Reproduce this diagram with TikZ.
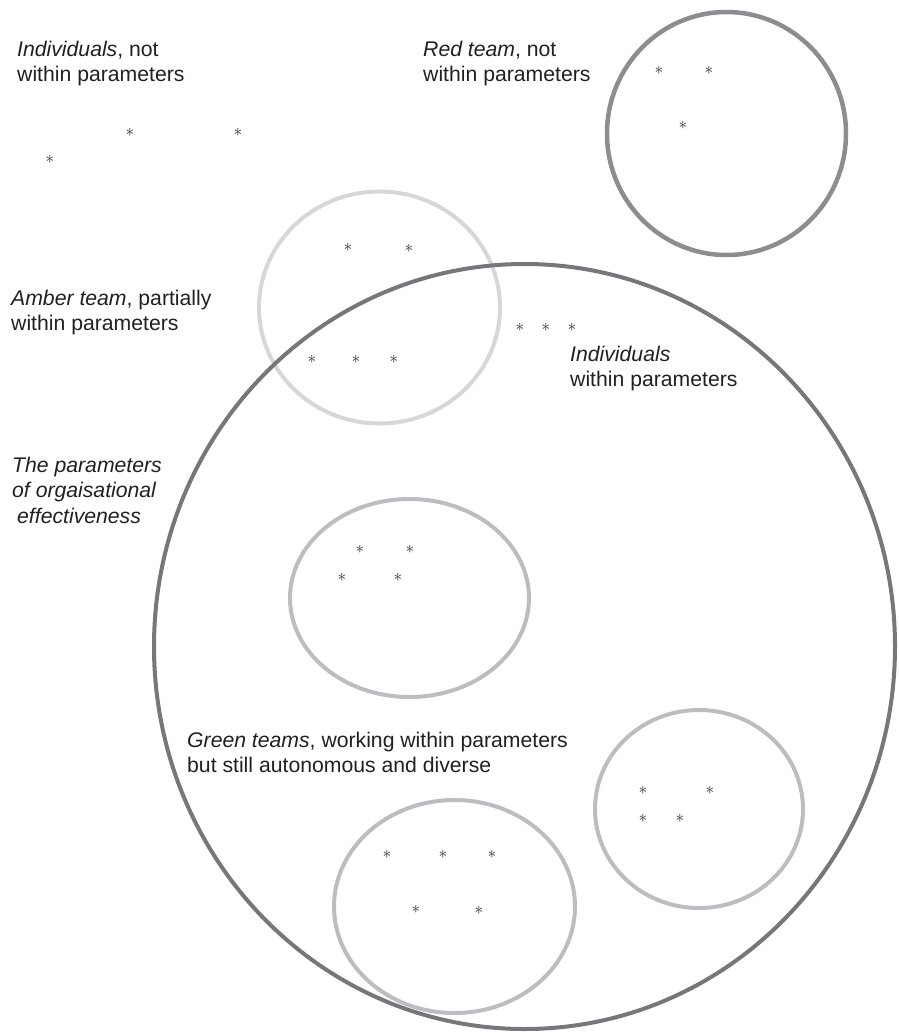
\documentclass[tikz,border=0pt]{standalone}
\usepackage{fontspec}
\setmainfont{Liberation Sans}
\usetikzlibrary{positioning}
\definecolor{bigc}{RGB}{118,119,122}
\definecolor{redc}{RGB}{140,141,145}
\definecolor{amberc}{RGB}{214,215,217}
\definecolor{greenc}{RGB}{188,189,192}
\definecolor{txtc}{RGB}{35,31,32}
\definecolor{starc}{RGB}{45,45,47}
\tikzset{
  ring/.style={line width=4pt},
  lbl/.style={anchor=base west, inner sep=0pt, text=txtc,
    font=\fontsize{21.2}{25.7}\selectfont},
  star/.style={anchor=base, inner sep=0pt, text=starc,
    font=\fontsize{19}{22}\selectfont}
}
\newcommand{\twolines}[1]{\begin{tabular}[t]{@{}l@{}}#1\end{tabular}}
\begin{document}
\begin{tikzpicture}[x=1pt,y=-1pt]
\useasboundingbox (0,0) rectangle (898,1034);
% rings
\draw[ring, amberc] (379.5,307.5) ellipse [x radius=120.5pt, y radius=116pt];
\draw[ring, bigc] (524.5,646.5) ellipse [x radius=370.5pt, y radius=382.5pt];
\draw[ring, redc, line width=4.5pt] (726.5,133.5) ellipse [x radius=119.5pt, y radius=121.5pt];
\draw[ring, greenc] (409.5,598) ellipse [x radius=119.5pt, y radius=99pt];
\draw[ring, greenc] (699,809) ellipse [x radius=104pt, y radius=99pt];
\draw[ring, greenc] (454.5,906.5) ellipse [x radius=120.5pt, y radius=106.5pt];
% labels
\node[lbl] (lind) at (17,56) {\twolines{\textit{Individuals}, not\\within parameters}};
\node[lbl] (lred) at (423,56) {\twolines{\textit{Red team}, not\\within parameters}};
\node[lbl] (lamber) at (11,305) {\twolines{\textit{Amber team}, partially\\within parameters}};
\node[lbl] (lindin) at (570,361) {\twolines{\textit{Individuals}\\within parameters}};
\node[lbl] (lparam) at (12,472) {\twolines{\textit{The parameters}\\\textit{of orgaisational}\\\hspace*{5pt}\textit{effectiveness}}};
\node[lbl] (lgreen) at (187,747) {\twolines{\textit{Green teams}, working within parameters\\but still autonomous and diverse}};
% asterisks
\foreach \n/\x/\y in {a1/130/132, a2/238/132, a3/50/159,
  r1/659/70, r2/709/70, r3/683/125,
  m1/348/247, m2/409/248, m3/312/359, m4/356/359, m5/394/359,
  i1/520/327, i2/546/327, i3/572/327,
  g1/360/549, g2/410/549, g3/342/577, g4/398/577,
  h1/643/790, h2/710/790, h3/643/818, h4/680/818,
  k1/387/854, k2/443/854, k3/492/854, k4/416/909, k5/479/910}
  \node[star] (s\n) at (\x,\y+4.7) {$\ast$};
\end{tikzpicture}
\end{document}
